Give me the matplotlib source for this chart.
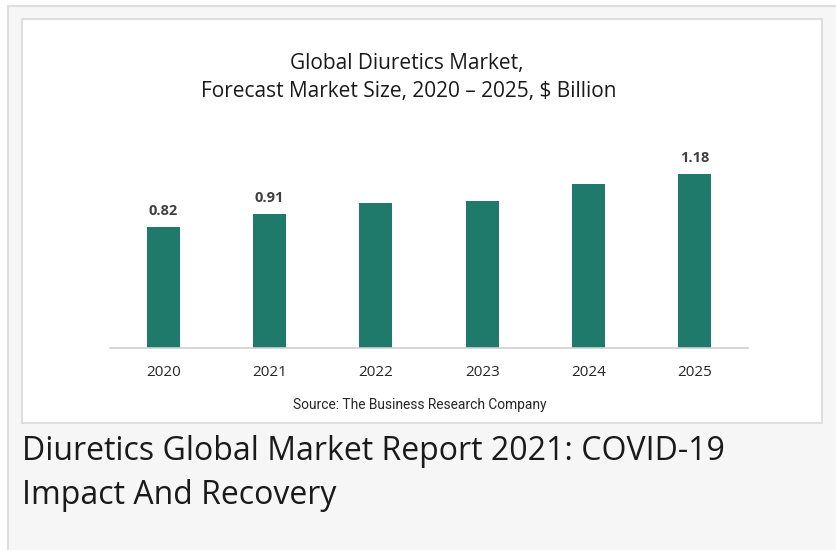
import matplotlib.pyplot as plt
from matplotlib.patches import Rectangle

years = ["2020", "2021", "2022", "2023", "2024", "2025"]
market_size = [0.82, 0.91, 0.98, 1.00, 1.11, 1.18]
shown_labels = {0: "0.82", 1: "0.91", 5: "1.18"}

BAR_COLOR = "#207a6b"
W, H = 836, 550


def fx(px):
    return px / W


def fy(py):
    return 1 - py / H


def main():
    fig = plt.figure(figsize=(W / 100, H / 100), dpi=100)
    fig.patch.set_facecolor("white")

    # outer grey panel (runs off the right and bottom edge) and inner white chart card
    fig.add_artist(Rectangle((fx(8), fy(570)), fx(870) - fx(8), fy(6) - fy(570),
                             transform=fig.transFigure, facecolor="#f6f6f6",
                             edgecolor="#dedede", linewidth=1.5, zorder=0))
    fig.add_artist(Rectangle((fx(22), fy(423)), fx(822) - fx(22), fy(19) - fy(423),
                             transform=fig.transFigure, facecolor="white",
                             edgecolor="#d9d9d9", linewidth=1.2, zorder=0))

    ax = fig.add_axes([fx(110), fy(348), fx(748) - fx(110), fy(140) - fy(348)])
    ax.set_facecolor("none")
    x = range(len(years))
    ax.bar(x, market_size, width=0.31, color=BAR_COLOR, zorder=2)
    ax.set_xlim(-0.5, len(years) - 0.5)
    ax.set_ylim(0, (348 - 140) / 147.5)
    for i, txt in shown_labels.items():
        ax.text(i, market_size[i] + 0.06, txt, ha="center", va="bottom",
                fontsize=10.5, fontweight="bold", color="#404040", family="Open Sans")

    ax.set_xticks(list(x))
    ax.set_xticklabels(years, fontsize=11, color="#262626", family="Open Sans")
    ax.tick_params(axis="x", length=0, pad=12)
    ax.set_yticks([])
    for side in ["top", "right", "left"]:
        ax.spines[side].set_visible(False)
    ax.spines["bottom"].set_color("#d0d0d0")
    ax.spines["bottom"].set_linewidth(1.2)

    fig.text(fx(407), fy(63), "Global Diuretics Market,", ha="center", va="center",
             fontsize=15, color="#1a1a1a", family="Open Sans")
    fig.text(fx(409), fy(91), "Forecast Market Size, 2020 \u2013 2025, $ Billion", ha="center",
             va="center", fontsize=15, color="#1a1a1a", family="Open Sans")
    fig.text(fx(420), fy(405), "Source: The Business Research Company", ha="center",
             va="center", fontsize=9.9, color="#262626", family="Roboto")

    fig.text(fx(22), fy(452), "Diuretics Global Market Report 2021: COVID-19", ha="left",
             va="center", fontsize=23, color="#1a1a1a", family="Open Sans")
    fig.text(fx(22), fy(496), "Impact And Recovery", ha="left",
             va="center", fontsize=23, color="#1a1a1a", family="Open Sans")

    fig.savefig("out.png", dpi=100)
    plt.close(fig)


if __name__ == "__main__":
    main()
